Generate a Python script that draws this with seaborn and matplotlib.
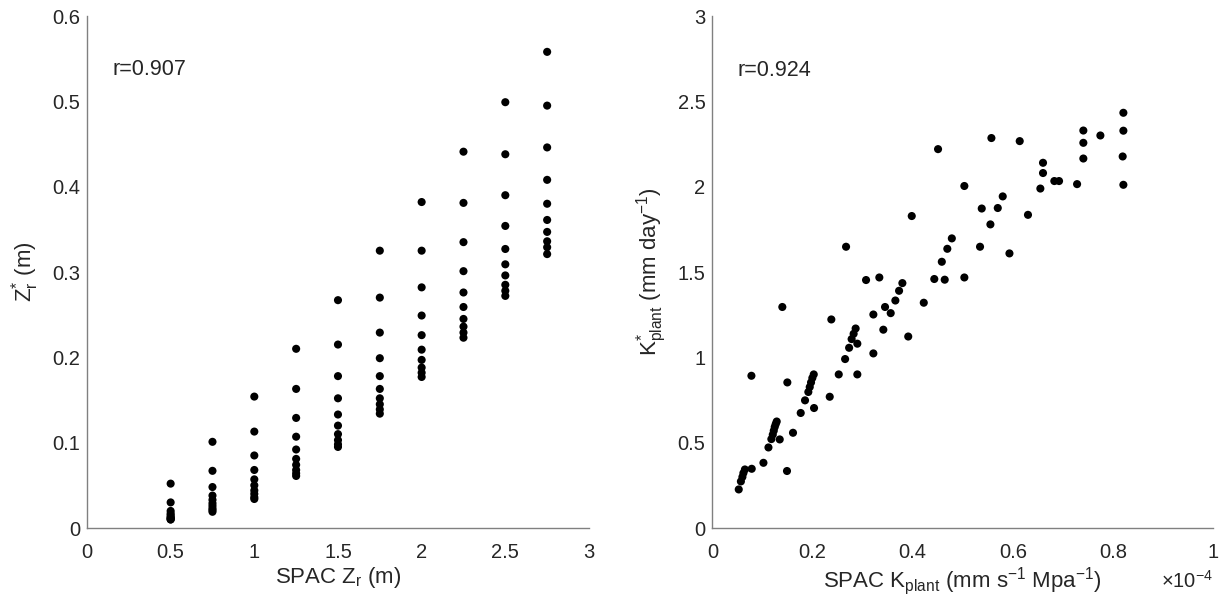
import numpy as np
import pandas as pd
import matplotlib
matplotlib.use("Agg")
import matplotlib.pyplot as plt
from matplotlib.ticker import FuncFormatter
import seaborn as sns

# ---------------- data ----------------
ZR_LEVELS = [0.5, 0.75, 1.0, 1.25, 1.5, 1.75, 2.0, 2.25, 2.5, 2.75]
ZR_STAR_050 = [0.052, 0.030, 0.020, 0.017, 0.015, 0.013, 0.012, 0.011, 0.010, 0.010]
ZR_STAR_075 = [0.101, 0.067, 0.048, 0.038, 0.033, 0.029, 0.026, 0.023, 0.021, 0.019]
ZR_STAR_100 = [0.154, 0.113, 0.085, 0.068, 0.057, 0.050, 0.044, 0.040, 0.036, 0.034]
ZR_STAR_125 = [0.210, 0.163, 0.129, 0.107, 0.092, 0.081, 0.074, 0.068, 0.064, 0.061]
ZR_STAR_150 = [0.267, 0.215, 0.178, 0.152, 0.133, 0.120, 0.110, 0.103, 0.098, 0.095]
ZR_STAR_175 = [0.325, 0.270, 0.229, 0.199, 0.178, 0.163, 0.152, 0.145, 0.139, 0.134]
ZR_STAR_200 = [0.382, 0.325, 0.282, 0.249, 0.226, 0.209, 0.197, 0.188, 0.182, 0.177]
ZR_STAR_225 = [0.441, 0.381, 0.335, 0.301, 0.276, 0.259, 0.245, 0.236, 0.229, 0.223]
ZR_STAR_250 = [0.499, 0.438, 0.390, 0.354, 0.327, 0.309, 0.296, 0.285, 0.278, 0.272]
ZR_STAR_275 = [0.558, 0.495, 0.446, 0.408, 0.380, 0.361, 0.347, 0.336, 0.329, 0.321]
ZR_COLUMNS = [ZR_STAR_050, ZR_STAR_075, ZR_STAR_100, ZR_STAR_125, ZR_STAR_150,
              ZR_STAR_175, ZR_STAR_200, ZR_STAR_225, ZR_STAR_250, ZR_STAR_275]

# SPAC K_plant in units of 1e-4 mm s^-1 MPa^-1, and K*_plant (mm day^-1)
KPLANT_SPAC_E4 = [0.0527, 0.057, 0.060, 0.062, 0.065, 0.0786, 0.078, 0.102, 0.112,
                  0.1178, 0.1206, 0.1226, 0.1245, 0.1265, 0.1285, 0.1345, 0.1397,
                  0.149, 0.1497, 0.161, 0.1764, 0.185, 0.1916, 0.1944, 0.197, 0.1996,
                  0.2024, 0.203, 0.2343, 0.2375, 0.2523, 0.265, 0.273, 0.278, 0.282,
                  0.286, 0.2894, 0.2894, 0.3068, 0.3214, 0.3214, 0.3333, 0.3413,
                  0.3447, 0.356, 0.3653, 0.3727, 0.3793, 0.391, 0.422, 0.443, 0.4638,
                  0.503,
                  0.2669, 0.398, 0.4505, 0.458, 0.469, 0.478, 0.503, 0.5343, 0.5377,
                  0.555, 0.557, 0.5697, 0.5796, 0.593, 0.6135, 0.630, 0.6547, 0.660,
                  0.660, 0.6826, 0.692, 0.728, 0.7405, 0.7405, 0.7405, 0.7745, 0.819,
                  0.8204, 0.8204, 0.8204]
KPLANT_STAR = [0.226, 0.273, 0.299, 0.322, 0.343, 0.347, 0.892, 0.382, 0.472,
               0.521, 0.547, 0.570, 0.592, 0.609, 0.624, 0.519, 1.295,
               0.334, 0.853, 0.558, 0.674, 0.748, 0.797, 0.826, 0.853, 0.879,
               0.900, 0.703, 0.769, 1.222, 0.900, 0.990, 1.056, 1.107, 1.138,
               1.169, 1.080, 0.900, 1.453, 1.251, 1.023, 1.468, 1.162,
               1.295, 1.259, 1.333, 1.390, 1.435, 1.122, 1.320, 1.459, 1.455,
               1.468,
               1.648, 1.828, 2.220, 1.560, 1.636, 1.697, 2.004, 1.648, 1.872,
               1.779, 2.285, 1.875, 1.943, 1.609, 2.267, 1.835, 1.989, 2.080,
               2.140, 2.033, 2.033, 2.015, 2.165, 2.257, 2.329, 2.300, 2.177,
               2.011, 2.328, 2.433]

R_LEFT = "r=0.907"
R_RIGHT = "r=0.924"

# ---------------- style ----------------
sns.set_style("white")
plt.rcParams["font.family"] = ["Liberation Sans", "DejaVu Sans"]
plt.rcParams["mathtext.fontset"] = "custom"
plt.rcParams["mathtext.rm"] = "Liberation Sans"
plt.rcParams["mathtext.it"] = "Liberation Sans:italic"
plt.rcParams["mathtext.default"] = "regular"
plt.rcParams["axes.unicode_minus"] = False
plt.rcParams["xtick.direction"] = "in"
plt.rcParams["ytick.direction"] = "in"

AX_COLOR = "#808080"
TXT_COLOR = "#262626"
FS_TICK = 14.5
FS_LABEL = 16
FS_R = 15.5

df_zr = pd.DataFrame({
    "spac": np.repeat(ZR_LEVELS, [len(c) for c in ZR_COLUMNS]),
    "star": np.concatenate(ZR_COLUMNS),
})
df_k = pd.DataFrame({"spac": KPLANT_SPAC_E4, "star": KPLANT_STAR})

fig = plt.figure(figsize=(12.25, 6.09), dpi=100)
ax1 = fig.add_axes([0.0710, 0.1330, 0.4098, 0.8407])
ax2 = fig.add_axes([0.5815, 0.1330, 0.4090, 0.8407])

for ax, df in ((ax1, df_zr), (ax2, df_k)):
    sns.scatterplot(data=df, x="spac", y="star", ax=ax, color="black",
                    s=34, edgecolor="none", linewidth=0, legend=False)
    for side in ("top", "right"):
        ax.spines[side].set_visible(False)
    for side in ("left", "bottom"):
        ax.spines[side].set_color(AX_COLOR)
        ax.spines[side].set_linewidth(1.0)
    ax.tick_params(axis="both", colors=AX_COLOR, labelcolor=TXT_COLOR,
                   length=4, width=1.0, labelsize=FS_TICK)
    ax.tick_params(axis="x", pad=11)
    ax.tick_params(axis="y", pad=5)
    fmt = FuncFormatter(lambda v, p: f"{v:g}")
    ax.xaxis.set_major_formatter(fmt)
    ax.yaxis.set_major_formatter(fmt)

ax1.set_xlim(0, 3)
ax1.set_ylim(0, 0.6)
ax1.set_xticks(np.arange(0, 3.01, 0.5))
ax1.set_yticks(np.arange(0, 0.601, 0.1))
ax1.set_xlabel(r"SPAC Z$_{r}$ (m)", fontsize=FS_LABEL, color=TXT_COLOR, labelpad=2)
ax1.set_ylabel(r"$Z^{*}_{r}$ (m)", fontsize=FS_LABEL, color=TXT_COLOR, labelpad=8)
ax1.text(0.15, 0.5375, R_LEFT, fontsize=FS_R, color=TXT_COLOR, va="center", ha="left")

ax2.set_xlim(0, 1)
ax2.set_ylim(0, 3)
ax2.set_xticks(np.arange(0, 1.01, 0.2))
ax2.set_yticks(np.arange(0, 3.01, 0.5))
ax2.set_xlabel(r"SPAC K$_{plant}$ (mm s$^{-1}$ Mpa$^{-1}$)",
               fontsize=FS_LABEL, color=TXT_COLOR, labelpad=2)
ax2.set_ylabel(r"$K^{*}_{plant}$ (mm day$^{-1}$)",
               fontsize=FS_LABEL, color=TXT_COLOR, labelpad=6)
ax2.text(1.0, -0.1166, r"$\times$10$^{-4}$", transform=ax2.transAxes,
         fontsize=FS_TICK, color=TXT_COLOR, ha="right", va="baseline")
ax2.text(0.05, 2.68, R_RIGHT, fontsize=FS_R, color=TXT_COLOR, va="center", ha="left")

fig.savefig("out.png", dpi=100, facecolor="white")
